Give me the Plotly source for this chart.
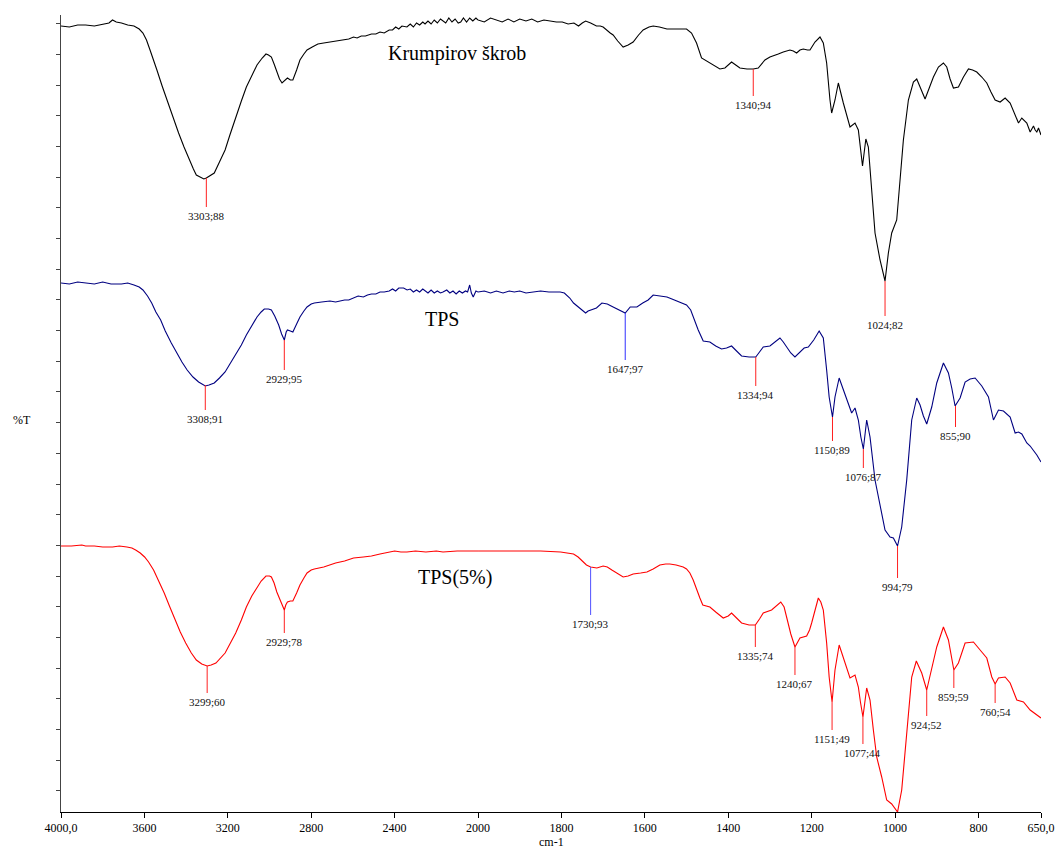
import plotly.graph_objects as go

# ---------------- data (wavenumber cm-1, stacked %T display units) ----------------
krump_wn = [4000, 3960, 3920, 3882, 3840, 3800, 3770, 3753, 3735, 3710, 3680, 3650, 3625, 3607, 3590, 3573,
            3555, 3540, 3515, 3487, 3460, 3436, 3410, 3385, 3365, 3351, 3330, 3315, 3303, 3285, 3265, 3240,
            3213, 3190, 3162, 3135, 3111, 3085, 3060, 3035, 3017, 3005, 2991, 2978, 2965, 2952, 2940, 2928,
            2914, 2900, 2888, 2870, 2854, 2835, 2820, 2795, 2768, 2740, 2710,
            2683, 2660, 2640, 2620, 2597, 2580, 2560, 2540, 2511, 2490, 2470, 2450, 2426, 2410, 2395, 2380,
            2365, 2341, 2325, 2310, 2295, 2280, 2265, 2254, 2240, 2225, 2210, 2195, 2180, 2168, 2155, 2140,
            2125, 2110, 2095, 2083, 2070, 2055, 2040, 2025, 2010, 2000, 1985, 1970, 1956, 1942, 1928, 1914,
            1900, 1885, 1871, 1857, 1842, 1827, 1812, 1798, 1784, 1770, 1759, 1750, 1742, 1730, 1716, 1707,
            1700, 1683, 1676, 1665, 1652, 1640, 1628, 1615, 1604, 1590, 1580, 1565, 1547, 1525, 1500, 1488,
            1476, 1464, 1452, 1436, 1420, 1408, 1400, 1392, 1382, 1372, 1355, 1340, 1328, 1312, 1300, 1292,
            1280, 1268, 1252, 1244, 1236, 1228, 1220, 1210, 1204, 1192, 1180, 1172, 1164, 1156, 1152, 1144,
            1136, 1124, 1108, 1096, 1088, 1078, 1070, 1064, 1056, 1048, 1036, 1030, 1024, 1016, 1008, 996,
            988, 980, 968, 956, 948, 938, 928, 918, 908, 896, 884, 876, 868, 860, 848, 836,
            824, 814, 804, 792, 780, 770, 760, 748, 736, 724, 714, 704, 696, 684, 676, 668,
            664, 660, 656, 650]
krump_t = [786, 785, 787, 787, 786, 788, 789, 792, 790, 789, 787, 786, 783, 779, 772, 762,
           752, 742, 726, 709, 693, 679, 665, 652, 643, 637, 635, 633, 634, 636, 639, 650,
           662, 677, 695, 711, 725, 737, 747, 754, 758, 757, 755, 748, 740, 733, 729, 731,
           734, 732, 732, 742, 752, 758, 762, 765, 768, 769, 770,
           771, 772, 772, 773, 775, 774, 776, 776, 778, 778, 780, 779, 782, 782, 785, 783,
           786, 785, 788, 785, 789, 787, 790, 788, 791, 788, 792, 789, 793, 791, 789, 794,
           790, 793, 789, 790, 794, 790, 794, 791, 794, 792, 790, 794, 792, 790, 793, 790,
           793, 791, 793, 790, 792, 791, 790, 790, 788, 789, 786, 789, 791, 789, 786, 786,
           785, 779, 777, 771, 765, 767, 770, 777, 782, 785, 786, 785, 783, 783, 783, 779,
           769, 754, 751, 747, 743, 744, 747, 750, 747, 744, 743, 743, 744, 752, 755, 756,
           758, 760, 762, 761, 759, 762, 763, 762, 762, 770, 775, 769, 749, 712, 699, 712,
           729, 709, 685, 689, 682, 646, 673, 665, 625, 579, 552, 540, 531, 559, 579, 592,
           629, 672, 712, 730, 733, 722, 713, 724, 735, 745, 749, 745, 733, 724, 725, 735,
           743, 742, 740, 735, 729, 720, 712, 710, 714, 709, 698, 689, 694, 689, 680, 686,
           682, 680, 684, 677]

tps_wn = [4000, 3960, 3920, 3882, 3840, 3800, 3760, 3710, 3680, 3650, 3625, 3607, 3585, 3565, 3545, 3522,
          3500, 3471, 3445, 3420, 3395, 3367, 3340, 3316, 3308, 3290, 3265, 3240, 3213, 3190, 3162, 3135,
          3111, 3085, 3060, 3040, 3025, 3005, 2991, 2975, 2956, 2942, 2929, 2920, 2914, 2900, 2888, 2870,
          2854, 2835, 2820, 2800, 2785, 2750, 2710, 2683,
          2660, 2640, 2620, 2597, 2575, 2550, 2530, 2511, 2490, 2470, 2450, 2426, 2410, 2395, 2380, 2357,
          2340, 2325, 2310, 2295, 2280, 2265, 2254, 2240, 2225, 2210, 2195, 2180, 2168, 2150, 2135, 2120,
          2105, 2090, 2075, 2060, 2050, 2040, 2032, 2023, 2010, 2000, 1985, 1970, 1956, 1940, 1925, 1913,
          1900, 1885, 1871, 1850, 1830, 1803, 1793,
          1780, 1771, 1760, 1750, 1742, 1736, 1725, 1716, 1703, 1690, 1676, 1662, 1647, 1635, 1619, 1605,
          1592, 1580, 1565, 1547, 1535, 1524, 1510, 1500, 1490, 1484, 1472, 1460, 1444, 1430, 1416, 1404,
          1392, 1380, 1368, 1350, 1334, 1325, 1316, 1300, 1288, 1276, 1268, 1260, 1250, 1240, 1228, 1218,
          1208, 1195, 1182, 1172, 1164, 1158, 1150, 1144, 1134, 1124, 1112, 1104, 1096, 1088, 1082, 1076,
          1068, 1060, 1048, 1036, 1024, 1012, 1004, 994, 984, 972, 960, 948, 940, 932, 924, 912,
          900, 884, 872, 864, 856, 844, 832, 820, 808, 792, 776, 764, 752, 740, 724, 712,
          704, 696, 684, 676, 668, 660, 650]
tps_t = [529, 528, 530, 529, 528, 530, 528, 528, 529, 527, 525, 522, 516, 509, 500, 492,
         481, 469, 459, 450, 442, 435, 430, 427, 426, 427, 429, 434, 440, 448, 457, 467,
         477, 486, 495, 500, 503, 503, 502, 496, 487, 478, 472, 480, 482, 481, 480, 488,
         495, 501, 505, 508, 509, 510, 511, 510,
         511, 512, 512, 514, 516, 515, 517, 518, 518, 520, 520, 521, 523, 521, 524, 524,
         522, 523, 520, 522, 520, 523, 521, 519, 522, 519, 521, 519, 520, 522, 519, 521,
         518, 521, 519, 521, 520, 527, 519, 515, 521, 520, 521, 519, 521, 519, 521, 520,
         521, 519, 520, 521, 520, 520, 519,
         514, 509, 505, 502, 499, 501, 503, 504, 509, 508, 505, 502, 499, 505, 505, 509,
         512, 517, 516, 515, 513, 511, 509, 507, 502, 495, 482, 471, 470, 466, 463, 464,
         466, 461, 456, 455, 455, 460, 465, 466, 470, 474, 470, 465, 459, 455, 460, 464,
         465, 472, 481, 474, 442, 415, 395, 415, 434, 422, 407, 399, 404, 392, 375, 363,
         392, 375, 332, 305, 282, 275, 274, 266, 285, 332, 392, 414, 407, 396, 388, 405,
         429, 449, 439, 424, 406, 414, 430, 433, 434, 426, 415, 392, 402, 401, 395, 379,
         380, 378, 369, 366, 362, 357, 350]

tps5_wn = [4000, 3950, 3900, 3882, 3840, 3800, 3753, 3720, 3684, 3660, 3642, 3620, 3599, 3580, 3556, 3530,
           3505, 3480, 3453, 3428, 3402, 3375, 3351, 3325, 3299, 3280, 3257, 3235, 3213, 3190, 3162, 3135,
           3111, 3085, 3060, 3040, 3017, 3000, 2991, 2978, 2965, 2950, 2936, 2929, 2922, 2914, 2900, 2888,
           2870, 2854, 2835, 2820, 2800, 2785, 2740, 2683, 2640, 2597, 2550, 2511, 2470, 2426, 2400, 2370,
           2341, 2300, 2250, 2200, 2168, 2100, 2050, 2000,
           1950, 1913, 1850, 1802, 1785, 1771, 1760, 1751, 1740, 1730, 1715, 1700, 1690, 1679, 1665, 1652,
           1640, 1628, 1610, 1595, 1580, 1564, 1550, 1540, 1525, 1508, 1500, 1492, 1484, 1476, 1468, 1461,
           1444, 1430, 1412, 1400, 1392, 1380, 1368, 1350, 1335, 1325, 1316, 1296, 1285, 1274, 1266, 1260,
           1250, 1240, 1228, 1212, 1205, 1200, 1192, 1184, 1178, 1172, 1164, 1158, 1151, 1144, 1134, 1124,
           1108, 1096, 1088, 1083, 1077, 1068, 1060, 1052, 1044, 1032, 1020, 1008, 1000, 994, 984, 972,
           960, 949, 936, 924, 912, 900, 884, 872, 859, 848, 832, 812, 792, 780, 768, 760,
           752, 736, 724, 708, 692, 676, 650]
tps5_t = [266, 266, 267, 266, 266, 265, 265, 266, 265, 264, 262, 259, 255, 250, 242, 231,
          219, 206, 192, 180, 169, 159, 152, 148, 146, 147, 149, 154, 159, 168, 179, 192,
          205, 216, 225, 231, 236, 236, 235, 229, 220, 212, 205, 202, 207, 210, 211, 211,
          219, 227, 234, 239, 242, 243, 245, 249, 251, 254, 255, 256, 258, 260, 261, 260,
          260, 261, 260, 261, 260, 261, 261, 261,
          261, 261, 261, 260, 259, 258, 255, 251, 247, 245, 244, 246, 245, 242, 238, 235,
          236, 238, 239, 240, 243, 247, 248, 248, 247, 245, 243, 239, 232, 222, 214, 207,
          205, 200, 194, 196, 199, 194, 189, 187, 187, 193, 199, 202, 206, 210, 205, 195,
          178, 165, 174, 176, 182, 189, 203, 214, 210, 202, 169, 135, 110, 142, 167, 154,
          134, 137, 125, 110, 95, 124, 112, 82, 55, 35, 12, 8, 4, 0, 22, 75,
          135, 151, 139, 122, 142, 165, 185, 172, 142, 149, 169, 170, 160, 154, 135, 128,
          134, 135, 129, 112, 110, 102, 94]

assert len(krump_wn) == len(krump_t) and len(tps_wn) == len(tps_t) and len(tps5_wn) == len(tps5_t)

series_names = ["Krumpirov škrob", "TPS", "TPS(5%)"]
series_colors = ["#000000", "#000080", "#ff0000"]

# peak annotations: wavenumber, value on curve, label
peak_wn = [3303, 1340, 1024,
           3308, 2929, 1647, 1334, 1150, 1076, 855, 994,
           3299, 2929, 1730, 1335, 1240, 1151, 1077, 924, 859, 760]
peak_t = [634, 743, 531,
          427, 472, 499, 455, 395, 363, 406, 266,
          146, 202, 245, 187, 165, 110, 95, 122, 142, 128]
peak_labels = ["3303;88", "1340;94", "1024;82",
               "3308;91", "2929;95", "1647;97", "1334;94", "1150;89", "1076;87", "855;90", "994;79",
               "3299;60", "2929;78", "1730;93", "1335;74", "1240;67", "1151;49", "1077;44", "924;52",
               "859;59", "760;54"]
# marker line styling (drop length in axis units, colour)
peak_drop = [29, 27, 35,
             25, 30, 47, 29, 24, 19, 21, 32,
             27, 23, 48, 22, 28, 28, 27, 26, 18, 19]
peak_color = ["#ff2020"] * 5 + ["#3030ff"] + ["#ff2020"] * 7 + ["#5050ff"] + ["#ff2020"] * 7

xticks_left = [4000, 3600, 3200, 2800, 2400]
xticks_left_text = ["4000,0", "3600", "3200", "2800", "2400"]
xticks_right = [2000, 1800, 1600, 1400, 1200, 1000, 800, 650]
xticks_right_text = ["2000", "1800", "1600", "1400", "1200", "1000", "800", "650,0"]

SERIF = "Liberation Serif, Times New Roman, serif"

fig = go.Figure()


def split(wn, t):
    left = [(w, v) for w, v in zip(wn, t) if w >= 2000]
    right = [(w, v) for w, v in zip(wn, t) if w <= 2000]
    return left, right


for wn, t, color, name in zip([krump_wn, tps_wn, tps5_wn], [krump_t, tps_t, tps5_t], series_colors, series_names):
    left, right = split(wn, t)
    fig.add_trace(go.Scatter(x=[p[0] for p in left], y=[p[1] for p in left], mode="lines",
                             line=dict(color=color, width=1.1), xaxis="x", yaxis="y",
                             name=name, showlegend=False, hoverinfo="skip"))
    fig.add_trace(go.Scatter(x=[p[0] for p in right], y=[p[1] for p in right], mode="lines",
                             line=dict(color=color, width=1.1), xaxis="x2", yaxis="y",
                             name=name, showlegend=False, hoverinfo="skip"))

for w, v, lab, d, c in zip(peak_wn, peak_t, peak_labels, peak_drop, peak_color):
    xr = "x" if w >= 2000 else "x2"
    fig.add_shape(type="line", xref=xr, yref="y", x0=w, x1=w, y0=v, y1=v - d,
                  line=dict(color=c, width=1))
    fig.add_annotation(x=w, y=v - d, xref=xr, yref="y", text=lab, showarrow=False,
                       yanchor="top", yshift=-1, font=dict(family=SERIF, size=11, color="#111111"))

# series titles
title_pos_wn = [2101, 2174, 2110]
title_pos_t = [759, 493, 235]
for name, w, v in zip(series_names, title_pos_wn, title_pos_t):
    fig.add_annotation(x=w, y=v, xref="x", yref="y", text=name, showarrow=False,
                       font=dict(family=SERIF, size=20, color="#000000"))

W, H = 1055, 848
ML, MR, MT, MB = 61, 14, 15, 36
PW, PH = W - ML - MR, H - MT - MB

fig.add_annotation(x=(22 - ML) / PW, y=(H - MB - 420) / PH, xref="paper", yref="paper", text="%T",
                   showarrow=False, xanchor="center", yanchor="middle",
                   font=dict(family=SERIF, size=12, color="#000000"))
fig.add_annotation(x=(551 - ML) / PW, y=(H - MB - 842) / PH, xref="paper", yref="paper", text="cm-1",
                   showarrow=False, xanchor="center", yanchor="middle",
                   font=dict(family=SERIF, size=12, color="#000000"))

split_frac = (2000 - 650) / 200.0
left_frac = 5.0 / (5.0 + split_frac)

fig.update_layout(
    width=W, height=H, autosize=False,
    margin=dict(l=ML, r=MR, t=MT, b=MB),
    paper_bgcolor="white", plot_bgcolor="white",
    showlegend=False,
    xaxis=dict(domain=[0, left_frac], range=[4000, 2000], tickvals=xticks_left, ticktext=xticks_left_text,
               ticks="outside", ticklen=5, tickcolor="#000", showline=True, linecolor="#000", linewidth=1,
               showgrid=False, zeroline=False, anchor="y", automargin=False,
               tickfont=dict(family=SERIF, size=12, color="#000")),
    xaxis2=dict(domain=[left_frac, 1], range=[2000, 650], tickvals=xticks_right, ticktext=xticks_right_text,
                ticks="outside", ticklen=5, tickcolor="#000", showline=True, linecolor="#000", linewidth=1,
                showgrid=False, zeroline=False, anchor="y", automargin=False,
                tickfont=dict(family=SERIF, size=12, color="#000")),
    yaxis=dict(range=[0, 797], tick0=21.3, dtick=30.67, ticks="outside", ticklen=4, tickcolor="#444",
               showticklabels=False, showline=True, linecolor="#444", linewidth=1,
               showgrid=False, zeroline=False, automargin=False),
)

post = (
    "document.documentElement.style.overflow='hidden';"
    "document.body.style.margin='0px';document.body.style.overflow='hidden';"
)
fig.write_html("out.html", post_script=post, config={"displayModeBar": False})
